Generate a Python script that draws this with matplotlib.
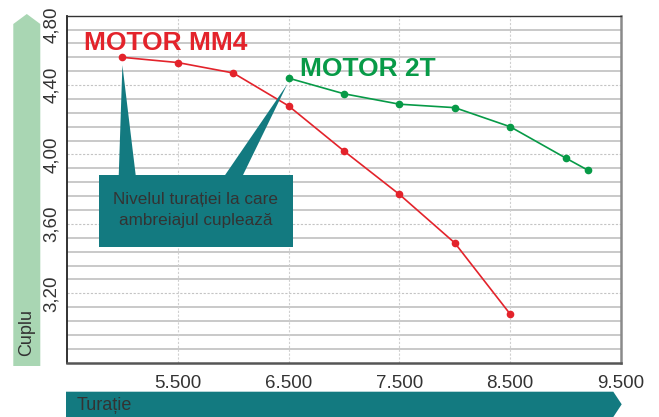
import matplotlib.pyplot as plt
from matplotlib.patches import Polygon, Rectangle
from matplotlib import transforms

plt.rcParams['font.family'] = ['Liberation Sans', 'DejaVu Sans']

# date
mm4_rpm = [5000, 5500, 6000, 6500, 7000, 7500, 8000, 8500]
mm4_cuplu = [4.56, 4.53, 4.47, 4.28, 4.02, 3.77, 3.49, 3.08]
t2_rpm = [6500, 7000, 7500, 8000, 8500, 9000, 9200]
t2_cuplu = [4.44, 4.35, 4.29, 4.27, 4.16, 3.98, 3.91]

x_ticks = [5500, 6500, 7500, 8500, 9500]
x_labels = ['5.500', '6.500', '7.500', '8.500', '9.500']
y_ticks = [3.20, 3.60, 4.00, 4.40, 4.80]
y_labels = ['3,20', '3,60', '4,00', '4,40', '4,80']

red = '#e3232b'
green = '#079a47'
teal = '#137a80'
lightgreen = '#a9d6b3'
txt = '#333333'

W, H = 659, 417
fig = plt.figure(figsize=(W / 100, H / 100), dpi=100)
ax = fig.add_axes([67 / W, 1 - 362.7 / H, (621 - 67) / W, (362.7 - 15.7) / H])
ax.set_xlim(4500, 9500)
ax.set_ylim(2.80, 4.80)

# grila
y = 2.88
while y < 4.79:
    if abs(y / 0.4 - round(y / 0.4)) < 1e-6:
        ax.axhline(y, color='#c4c4c4', lw=0.8, ls=(0, (2, 1.5)), zorder=0)
    else:
        ax.axhline(y, color='#c9c9c9', lw=1.4, zorder=0)
    y += 0.08
for xt in x_ticks[:-1]:
    ax.axvline(xt, color='#d0d0d0', lw=0.8, ls=(0, (2, 1.5)), zorder=0)

ax.spines['left'].set_color('#222222')
ax.spines['left'].set_linewidth(1.3)
ax.spines['bottom'].set_color('#555555')
ax.spines['bottom'].set_linewidth(1.8)
ax.spines['top'].set_color('#333333')
ax.spines['top'].set_linewidth(1.0)
ax.spines['right'].set_color('#8a8a8a')
ax.spines['right'].set_linewidth(1.8)

ax.set_xticks(x_ticks)
ax.set_xticklabels(x_labels, fontsize=13.5, color=txt)
ax.set_yticks(y_ticks)
ax.set_yticklabels(y_labels, fontsize=13.5, color=txt, rotation=90, va='center')
ax.tick_params(length=0, pad=5)
ax.tick_params(axis='x', pad=9)
# eticheta 4,80 e mutata putin in jos
lbl = ax.get_yticklabels()[-1]
lbl.set_transform(lbl.get_transform() + transforms.ScaledTranslation(0, -9 / 100, fig.dpi_scale_trans))

ax.plot(mm4_rpm, mm4_cuplu, color=red, lw=1.2, marker='o', ms=4.5, zorder=3)
ax.plot(t2_rpm, t2_cuplu, color=green, lw=1.2, marker='o', ms=4.5, zorder=3)

ax.text(4655, 4.645, 'MOTOR MM4', color=red, fontsize=19, fontweight='bold', va='center')
ax.text(6603, 4.49, 'MOTOR 2T', color=green, fontsize=19, fontweight='bold', va='center')

# caseta cu sageti
box_x0, box_x1 = 4786, 6537
box_y0, box_y1 = 3.467, 3.881
ax.add_patch(Rectangle((box_x0, box_y0), box_x1 - box_x0, box_y1 - box_y0,
                       color=teal, zorder=4, lw=0))
ax.add_patch(Polygon([(4967, box_y1), (mm4_rpm[0], mm4_cuplu[0] - 0.045), (5120, box_y1)],
                     closed=True, color=teal, zorder=4, lw=0))
ax.add_patch(Polygon([(5926, box_y1), (t2_rpm[0] - 12, t2_cuplu[0] - 0.035), (6088, box_y1)],
                     closed=True, color=teal, zorder=4, lw=0))
ax.text((box_x0 + box_x1) / 2, (box_y0 + box_y1) / 2 + 0.004,
        'Nivelul turației la care\nambreiajul cuplează',
        ha='center', va='center', fontsize=12.3, color=txt, linespacing=1.48, zorder=5)

# sageata verticala (Cuplu)
def px(x, y):
    return (x / W, 1 - y / H)

fig.patches.append(Polygon([px(13.3, 366), px(13.3, 24), px(26.8, 14), px(40.3, 24), px(40.3, 366)],
                           closed=True, color=lightgreen, lw=0, transform=fig.transFigure))
fig.text(*px(26.5, 332), 'Cuplu', rotation=90, ha='center', va='center', fontsize=13, color=txt)

# sageata orizontala (Turatie)
fig.patches.append(Polygon([px(66, 391.7), px(613.3, 391.7), px(621.7, 404.3), px(613.3, 417), px(66, 417)],
                           closed=True, color=teal, lw=0, transform=fig.transFigure))
fig.text(*px(77, 405), 'Turație', ha='left', va='center', fontsize=13, color=txt)

fig.savefig('out.png', dpi=100)
